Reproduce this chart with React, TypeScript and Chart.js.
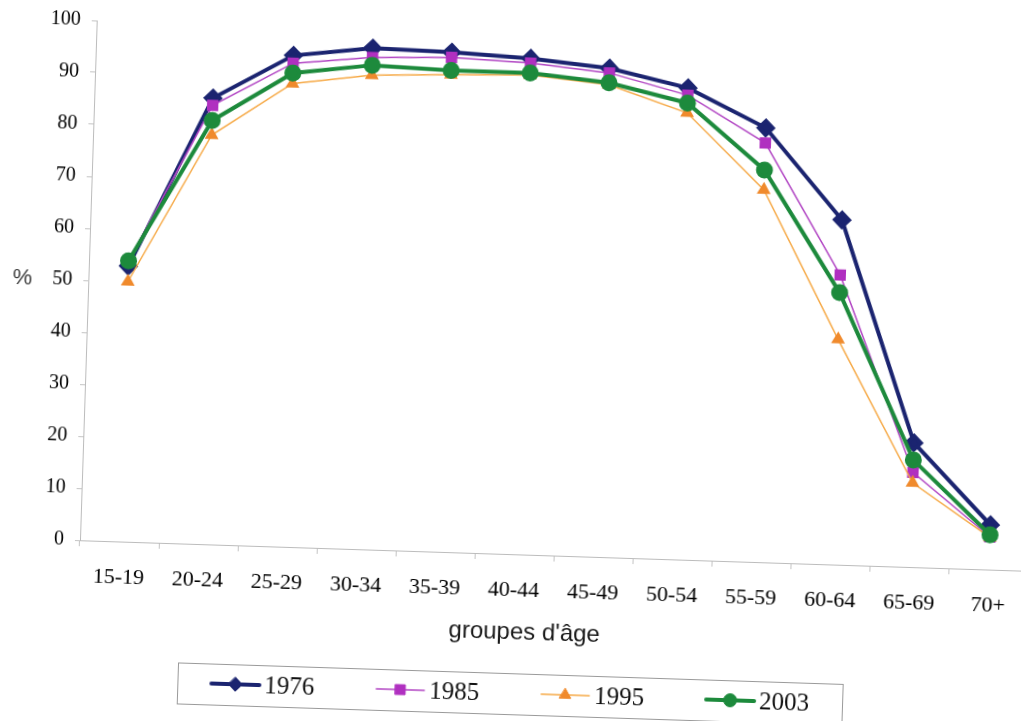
import React, { useEffect, useRef } from 'react';
import { Chart, registerables } from 'chart.js';

Chart.register(...registerables);

// ---- data ----
const ageGroups = ['15-19', '20-24', '25-29', '30-34', '35-39', '40-44', '45-49', '50-54', '55-59', '60-64', '65-69', '70+'];
const seriesNames = ['1976', '1985', '1995', '2003'];
const values1976 = [53, 85.8, 94.5, 96.4, 96.1, 95.4, 94.0, 90.7, 83.5, 66.3, 23.9, 8.6];
const values1985 = [54, 84.4, 93.0, 94.6, 95.1, 94.5, 93.1, 89.3, 80.6, 55.7, 18.2, 6.3];
const values1995 = [50, 78.7, 89.1, 91.2, 91.8, 92.2, 90.8, 85.9, 71.6, 43.3, 16.2, 6.2];
const values2003 = [54, 81.5, 91.1, 93.1, 92.6, 92.6, 91.2, 87.8, 75.4, 52.3, 20.6, 6.7];
const yMin = 0;
const yMax = 100;
const yStep = 10;
const xAxisTitle = "groupes d'âge";
const yAxisTitle = '%';

const SERIF = "'Liberation Serif', 'Times New Roman', serif";
const SANS = "'Liberation Sans', Arial, sans-serif";

function drawMarker(ctx: CanvasRenderingContext2D, style: string, x: number, y: number, r: number, fill: string, stroke: string) {
  ctx.beginPath();
  if (style === 'rectRot') {
    ctx.moveTo(x, y - r);
    ctx.lineTo(x + r, y);
    ctx.lineTo(x, y + r);
    ctx.lineTo(x - r, y);
    ctx.closePath();
  } else if (style === 'rect') {
    const s = r * Math.SQRT1_2;
    ctx.rect(x - s, y - s, 2 * s, 2 * s);
  } else if (style === 'triangle') {
    let a = 0;
    ctx.moveTo(x + Math.sin(a) * r, y - Math.cos(a) * r);
    a += (2 * Math.PI) / 3;
    ctx.lineTo(x + Math.sin(a) * r, y - Math.cos(a) * r);
    a += (2 * Math.PI) / 3;
    ctx.lineTo(x + Math.sin(a) * r, y - Math.cos(a) * r);
    ctx.closePath();
  } else {
    ctx.arc(x, y, r, 0, Math.PI * 2);
  }
  ctx.fillStyle = fill;
  ctx.fill();
  ctx.strokeStyle = stroke;
  ctx.lineWidth = 1;
  ctx.stroke();
}

const decorPlugin = {
  id: 'decor',
  afterDraw(chart: any) {
    const ctx: CanvasRenderingContext2D = chart.ctx;
    const area = chart.chartArea;
    ctx.save();
    // axis titles
    ctx.fillStyle = '#1a1a1a';
    ctx.textAlign = 'center';
    ctx.textBaseline = 'middle';
    ctx.font = '24px ' + SANS;
    ctx.fillText(xAxisTitle, 533, 632);
    ctx.fillStyle = '#3a3a3a';
    ctx.font = '22px ' + SANS;
    ctx.fillText(yAxisTitle, 20, (area.top + area.bottom) / 2);

    // legend box
    const boxL = 188, boxT = 673, boxR = 853, boxB = 714;
    ctx.strokeStyle = '#9a9a9a';
    ctx.lineWidth = 1;
    ctx.strokeRect(boxL + 0.5, boxT + 0.5, boxR - boxL, boxB - boxT);
    const cy = 693;
    chart.data.datasets.forEach((ds: any, i: number) => {
      const cx = 246 + 165 * i;
      ctx.beginPath();
      ctx.moveTo(cx - 24, cy);
      ctx.lineTo(cx + 24, cy);
      ctx.strokeStyle = ds.borderColor;
      ctx.lineWidth = ds.borderWidth;
      ctx.lineCap = 'round';
      ctx.stroke();
      drawMarker(ctx, ds.pointStyle, cx, cy, ds.pointRadius, ds.pointBackgroundColor, ds.pointBorderColor);
      ctx.fillStyle = '#111';
      ctx.font = '25px ' + SERIF;
      ctx.textAlign = 'left';
      ctx.textBaseline = 'middle';
      ctx.fillText(ds.label, cx + 29, cy + 1);
    });
    ctx.restore();
  },
};

export default function App() {
  const ref = useRef<HTMLCanvasElement | null>(null);

  useEffect(() => {
    if (!ref.current) return;
    const chart = new Chart(ref.current, {
      type: 'line',
      data: {
        labels: ageGroups,
        datasets: [
          {
            label: seriesNames[0],
            data: values1976,
            borderColor: '#1b2470',
            backgroundColor: '#1b2470',
            borderWidth: 4,
            pointStyle: 'rectRot',
            pointRadius: 7,
            pointBackgroundColor: '#1b2470',
            pointBorderColor: '#1b2470',
            tension: 0,
            order: 4,
          },
          {
            label: seriesNames[1],
            data: values1985,
            borderColor: '#b247c4',
            backgroundColor: '#b030c0',
            borderWidth: 1.5,
            pointStyle: 'rect',
            pointRadius: 7,
            pointBackgroundColor: '#b030c0',
            pointBorderColor: '#b030c0',
            tension: 0,
            order: 3,
          },
          {
            label: seriesNames[2],
            data: values1995,
            borderColor: '#f6aa48',
            backgroundColor: '#f08a2c',
            borderWidth: 1.5,
            pointStyle: 'triangle',
            pointRadius: 6.5,
            pointBackgroundColor: '#f08a2c',
            pointBorderColor: '#f08a2c',
            tension: 0,
            order: 2,
          },
          {
            label: seriesNames[3],
            data: values2003,
            borderColor: '#1d8a3c',
            backgroundColor: '#1d8a3c',
            borderWidth: 4,
            pointStyle: 'circle',
            pointRadius: 6.5,
            pointBackgroundColor: '#1d8a3c',
            pointBorderColor: '#1d8a3c',
            tension: 0,
            order: 1,
          },
        ],
      },
      options: {
        responsive: false,
        animation: false,
        devicePixelRatio: 1,
        layout: { padding: { left: 0, top: 34, right: 25, bottom: 126 } },
        plugins: {
          legend: { display: false },
          tooltip: { enabled: false },
        },
        scales: {
          x: {
            type: 'category',
            offset: true,
            grid: { offset: true, drawOnChartArea: false, drawTicks: true, tickLength: 6, color: '#c4c4c4' },
            border: { display: true, color: '#bcbcbc', width: 1 },
            ticks: {
              font: { family: SERIF, size: 22 },
              color: '#000',
              padding: 17,
              maxRotation: 0,
              autoSkip: false,
            },
            afterFit: (scale: any) => {
              scale.height = 60;
            },
          },
          y: {
            min: yMin,
            max: yMax,
            grid: { drawOnChartArea: false, drawTicks: true, tickLength: 5, color: '#c4c4c4' },
            border: { display: true, color: '#bcbcbc', width: 1 },
            ticks: {
              stepSize: yStep,
              font: { family: SERIF, size: 20 },
              color: '#000',
              padding: 11,
            },
            afterFit: (scale: any) => {
              scale.width = 86;
            },
          },
        },
      },
      plugins: [decorPlugin],
    } as any);
    return () => chart.destroy();
  }, []);

  return (
    <div style={{ position: 'fixed', left: 0, top: 0, width: 1021, height: 721, overflow: 'hidden', background: '#fff' }}>
      <div
        style={{
          position: 'absolute',
          left: 0,
          top: 0,
          width: 1060,
          height: 740,
          transform: 'rotate(1.85deg)',
          transformOrigin: '510px 360px',
        }}
      >
        <canvas ref={ref} width={1060} height={740} style={{ width: 1060, height: 740, display: 'block' }} />
      </div>
    </div>
  );
}
